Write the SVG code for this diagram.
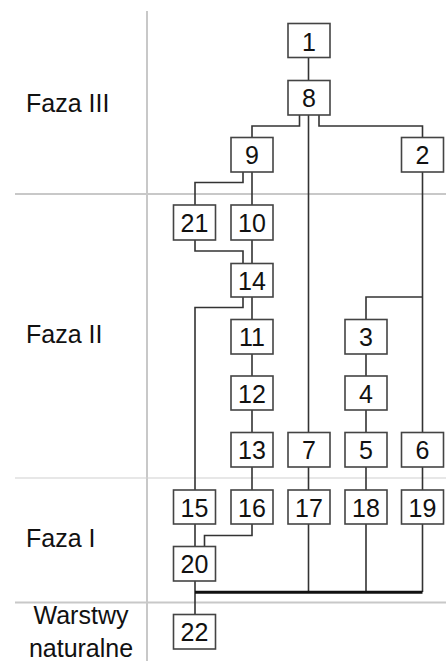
<svg xmlns="http://www.w3.org/2000/svg" width="446" height="661" viewBox="0 0 446 661">
<style>
.sep{stroke:#c8c8c8;stroke-width:2;fill:none}
.sep1{stroke:#d0d0d0;stroke-width:1.2;fill:none}
.lbl{font-family:"Liberation Sans",Arial,sans-serif;font-size:25px;fill:#111}
.box rect{fill:#fff;stroke:#444;stroke-width:1.6}
.box text{font-family:"Liberation Sans",Arial,sans-serif;font-size:25px;fill:#111;text-anchor:middle}
.c{stroke:#333;stroke-width:1.6;fill:none}
.thick{stroke:#111;stroke-width:3;fill:none}
</style>
<rect width="446" height="661" fill="#fff"/>
<g id="grid">
<line class="sep" x1="147" y1="11" x2="147" y2="661"/>
<line class="sep" x1="15" y1="194" x2="446" y2="194"/>
<line class="sep1" x1="15" y1="478" x2="446" y2="478"/>
<line class="sep" x1="15" y1="602.5" x2="446" y2="602.5"/>
</g>
<g id="labels">
<text class="lbl" x="26" y="112">Faza III</text>
<text class="lbl" x="26" y="343">Faza II</text>
<text class="lbl" x="26" y="546.5">Faza I</text>
<text class="lbl" x="81" y="624" text-anchor="middle">Warstwy</text>
<text class="lbl" x="81" y="656.5" text-anchor="middle">naturalne</text>
</g>
<g id="connectors">
<path class="c" d="M308.5 57.5V80.5"/>
<path class="c" d="M299.5 115V126H252V137.5"/>
<path class="c" d="M308.5 115V432.5"/>
<path class="c" d="M319 115V126H422.5V137.5"/>
<path class="c" d="M243 172V182.5H195V205"/>
<path class="c" d="M252 172V205"/>
<path class="c" d="M195 240V251H243V263.5"/>
<path class="c" d="M252 240V263.5"/>
<path class="c" d="M243 297V307.5H195V490"/>
<path class="c" d="M252 297V319.5"/>
<path class="c" d="M252 354V376"/>
<path class="c" d="M252 410V432.5"/>
<path class="c" d="M252 467V490"/>
<path class="c" d="M422.5 172V432.5"/>
<path class="c" d="M422.5 297H366V319.5"/>
<path class="c" d="M366 354V376"/>
<path class="c" d="M366 410V432.5"/>
<path class="c" d="M366 467V490"/>
<path class="c" d="M308.5 467V490"/>
<path class="c" d="M422.5 467V490"/>
<path class="c" d="M195 524V546.5"/>
<path class="c" d="M252 524V535.5H204.5V546.5"/>
<path class="c" d="M195 581V614.5"/>
<path class="c" d="M308.5 524V592"/>
<path class="c" d="M366 524V592"/>
<path class="c" d="M422.5 524V592"/>
<path class="thick" d="M195 592.3H422.5"/>
</g>
<g id="n1" class="box"><rect x="288" y="23.5" width="42" height="34"/><text x="309" y="50.5">1</text></g>
<g id="n8" class="box"><rect x="288" y="80.5" width="42" height="34.5"/><text x="309" y="107.3">8</text></g>
<g id="n9" class="box"><rect x="231" y="137.5" width="42" height="34.5"/><text x="252" y="164.3">9</text></g>
<g id="n2" class="box"><rect x="401.5" y="137.5" width="42" height="34.5"/><text x="422.5" y="164.3">2</text></g>
<g id="n21" class="box"><rect x="173.5" y="205" width="42" height="35"/><text x="194.5" y="232">21</text></g>
<g id="n10" class="box"><rect x="231" y="205" width="42" height="35"/><text x="252" y="232">10</text></g>
<g id="n14" class="box"><rect x="231" y="263.5" width="42" height="33.5"/><text x="252" y="290">14</text></g>
<g id="n11" class="box"><rect x="231" y="319.5" width="42" height="34.5"/><text x="252" y="346.3">11</text></g>
<g id="n3" class="box"><rect x="345" y="319.5" width="42" height="34.5"/><text x="366" y="346.3">3</text></g>
<g id="n12" class="box"><rect x="231" y="376" width="42" height="34"/><text x="252" y="402.5">12</text></g>
<g id="n4" class="box"><rect x="345" y="376" width="42" height="34"/><text x="366" y="402.5">4</text></g>
<g id="n13" class="box"><rect x="231" y="432.5" width="42" height="34.5"/><text x="252" y="459.3">13</text></g>
<g id="n7" class="box"><rect x="288" y="432.5" width="42" height="34.5"/><text x="309" y="459.3">7</text></g>
<g id="n5" class="box"><rect x="345" y="432.5" width="42" height="34.5"/><text x="366" y="459.3">5</text></g>
<g id="n6" class="box"><rect x="401.5" y="432.5" width="42" height="34.5"/><text x="422.5" y="459.3">6</text></g>
<g id="n15" class="box"><rect x="173.5" y="490" width="42" height="34"/><text x="194.5" y="516.5">15</text></g>
<g id="n16" class="box"><rect x="231" y="490" width="42" height="34"/><text x="252" y="516.5">16</text></g>
<g id="n17" class="box"><rect x="288" y="490" width="42" height="34"/><text x="309" y="516.5">17</text></g>
<g id="n18" class="box"><rect x="345" y="490" width="42" height="34"/><text x="366" y="516.5">18</text></g>
<g id="n19" class="box"><rect x="401.5" y="490" width="42" height="34"/><text x="422.5" y="516.5">19</text></g>
<g id="n20" class="box"><rect x="173.5" y="546.5" width="42" height="34.5"/><text x="194.5" y="573.3">20</text></g>
<g id="n22" class="box"><rect x="173.5" y="614.5" width="42" height="34.5"/><text x="194.5" y="641.3">22</text></g>
</svg>
